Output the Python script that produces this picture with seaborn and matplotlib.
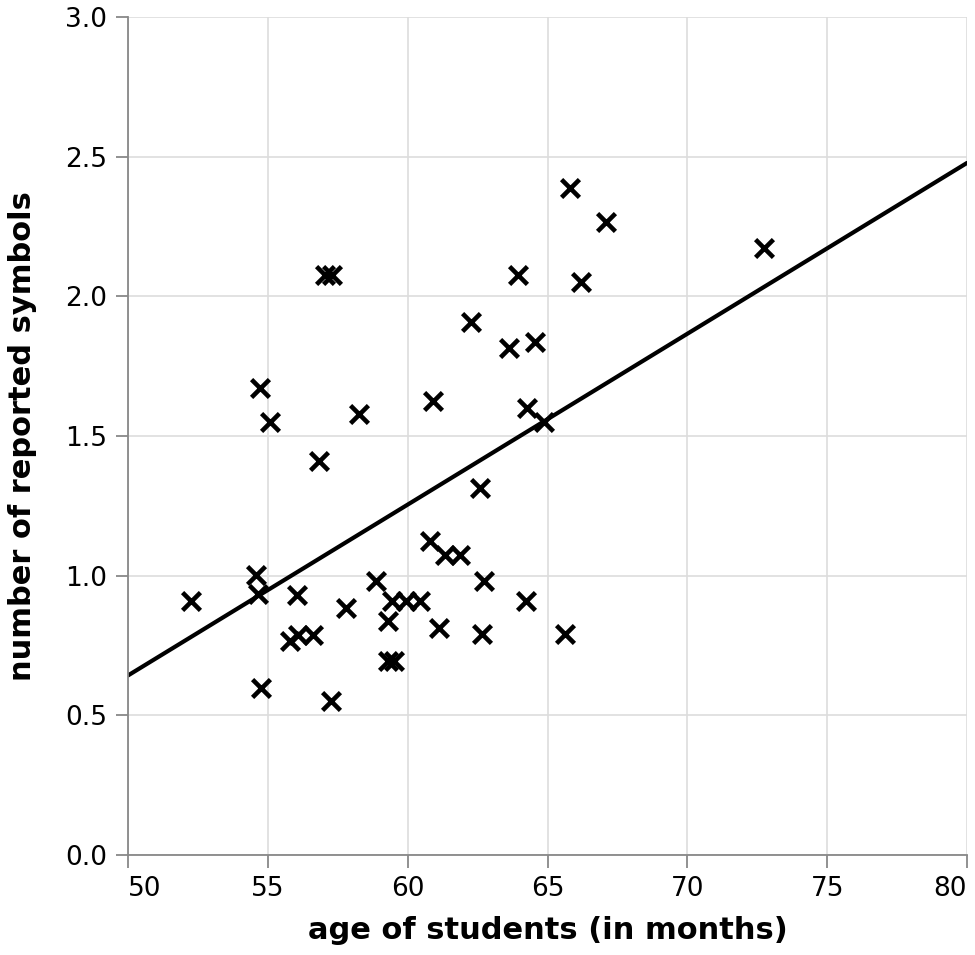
import numpy as np
import pandas as pd
import matplotlib
matplotlib.use("Agg")
import matplotlib.pyplot as plt
import seaborn as sns

# age of students (months) and number of reported symbols
age_months = [52.25, 54.58, 54.65, 54.76, 54.72, 55.08, 56.04, 55.8, 56.08, 56.61,
              56.83, 57.05, 57.28, 57.26, 57.79, 58.26, 58.87, 59.30, 59.44, 59.30,
              59.5, 59.94, 60.44, 61.12, 60.80, 60.90, 61.33, 61.87, 62.26, 62.58,
              62.73, 62.66, 63.62, 63.94, 64.23, 64.27, 64.55, 64.87, 65.62, 65.80,
              66.20, 67.09, 72.74]
reported_symbols = [0.909, 1.002, 0.934, 0.598, 1.672, 1.550, 0.931, 0.765, 0.787, 0.787,
                    1.411, 2.078, 2.078, 0.551, 0.884, 1.579, 0.981, 0.838, 0.909, 0.695,
                    0.695, 0.909, 0.909, 0.813, 1.124, 1.625, 1.074, 1.074, 1.908, 1.314,
                    0.981, 0.791, 1.815, 2.076, 0.909, 1.600, 1.837, 1.550, 0.791, 2.388,
                    2.051, 2.266, 2.173]

x_ticks = [50, 55, 60, 65, 70, 75, 80]
y_ticks = [0.0, 0.5, 1.0, 1.5, 2.0, 2.5, 3.0]

df = pd.DataFrame({"age": age_months, "symbols": reported_symbols})

sns.set_theme(style="whitegrid")
plt.rcParams['font.family'] = ['DejaVu Sans']
plt.rcParams.update({
    "axes.edgecolor": "#888888",
    "axes.linewidth": 1.3,
    "grid.color": "#dddddd",
    "grid.linewidth": 1.2,
    "xtick.color": "#888888",
    "ytick.color": "#888888",
    "xtick.labelcolor": "black",
    "ytick.labelcolor": "black",
    "xtick.major.size": 9,
    "ytick.major.size": 9,
    "xtick.major.width": 1.3,
    "ytick.major.width": 1.3,
    "xtick.bottom": True,
    "ytick.left": True,
})

fig, ax = plt.subplots(figsize=(9.75, 9.55), dpi=100)
fig.subplots_adjust(left=0.1313, right=0.9918, bottom=0.1047, top=0.9822)

ax.set_xlim(50, 80)
ax.set_ylim(0, 3.0)

sns.scatterplot(data=df, x="age", y="symbols", marker="x", s=165, linewidth=3.3,
                color="black", ax=ax, zorder=3)
sns.regplot(data=df, x="age", y="symbols", scatter=False, ci=None, truncate=False,
            color="black", line_kws={"linewidth": 3}, ax=ax)

ax.set_xlim(50, 80)
ax.set_ylim(0, 3.0)
ax.set_xticks(x_ticks)
ax.set_xticklabels([str(v) for v in x_ticks])
ax.set_yticks(y_ticks)
ax.set_yticklabels([f"{v:.1f}" for v in y_ticks])
ax.tick_params(labelsize=19, pad=6)

# first and last x labels flush with the axis ends
xlabels = ax.get_xticklabels()
xlabels[0].set_horizontalalignment("left")
xlabels[-1].set_horizontalalignment("right")

for side in ["top", "right"]:
    ax.spines[side].set_visible(False)

ax.set_xlabel("age of students (in months)", fontsize=22, fontweight="bold",
              color="black", labelpad=10)
ax.set_ylabel("number of reported symbols", fontsize=22, fontweight="bold",
              color="black", labelpad=20)

fig.savefig("out.png", dpi=100)
